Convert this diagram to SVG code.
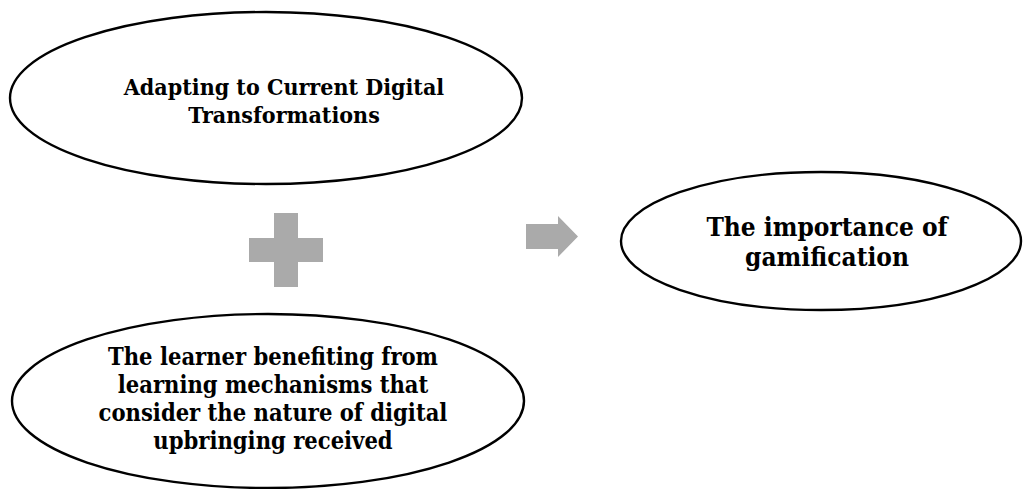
<svg xmlns="http://www.w3.org/2000/svg" width="1028" height="489" viewBox="0 0 1028 489">
  <style>
    .oval { fill: #ffffff; stroke: #000000; stroke-width: 2.4; }
    .label { font-family: "DejaVu Serif", "Liberation Serif", serif; font-stretch: condensed; font-weight: bold; font-size: 23px; fill: #000000; text-anchor: middle; }
    .big { font-size: 26px; }
    .mid { font-size: 23.5px; }
    .sym { fill: #aaaaaa; }
  </style>
  <rect width="1028" height="489" fill="#ffffff"/>

  <g id="node-adapting">
    <ellipse class="oval" cx="266" cy="98" rx="256" ry="86"/>
    <text class="label" x="284" y="95">Adapting to Current Digital</text>
    <text class="label" x="284" y="123">Transformations</text>
  </g>

  <g id="node-learner">
    <ellipse class="oval" cx="268" cy="401" rx="256" ry="87"/>
    <text class="label mid" x="273" y="365">The learner benefiting from</text>
    <text class="label mid" x="273" y="393">learning mechanisms that</text>
    <text class="label mid" x="273" y="421">consider the nature of digital</text>
    <text class="label mid" x="273" y="449">upbringing received</text>
  </g>

  <g id="node-gamification">
    <ellipse class="oval" cx="821" cy="241" rx="200" ry="69"/>
    <text class="label big" x="827" y="236">The importance of</text>
    <text class="label big" x="827" y="266">gamification</text>
  </g>

  <g id="connectors">
    <!-- plus sign joining the two inputs -->
    <path class="sym" d="M274 213 H298 V238 H323 V262 H298 V287 H274 V262 H249 V238 H274 Z"/>
    <!-- block arrow to the result -->
    <path class="sym" d="M526 224 H558 V216 L578 236.5 L558 257 V249 H526 Z"/>
  </g>
</svg>
